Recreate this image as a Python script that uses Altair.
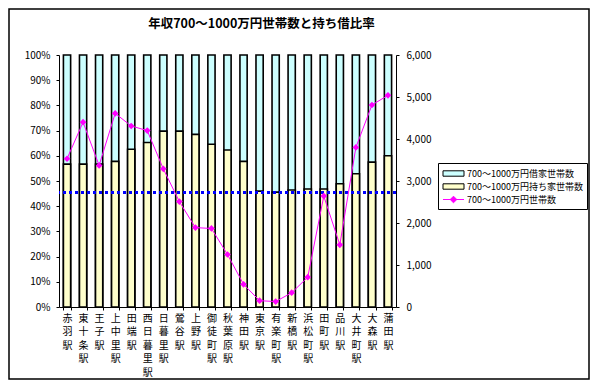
import altair as alt
import pandas as pd

FONT = "Noto Sans CJK JP"

stations = ["赤羽駅", "東十条駅", "王子駅", "上中里駅", "田端駅", "西日暮里駅", "日暮里駅",
            "鶯谷駅", "上野駅", "御徒町駅", "秋葉原駅", "神田駅", "東京駅", "有楽町駅",
            "新橋駅", "浜松町駅", "田町駅", "品川駅", "大井町駅", "大森駅", "蒲田駅"]
own_share = [56.7, 56.7, 56.7, 57.8, 62.6, 65.3, 69.8, 69.8, 68.5, 64.6, 62.3,
             57.8, 46.0, 45.6, 46.4, 46.8, 46.8, 48.9, 52.9, 57.5, 60.0]
households = [3530, 4400, 3370, 4610, 4310, 4200, 3290, 2510, 1890, 1870, 1250,
              540, 150, 130, 340, 710, 2640, 1480, 3800, 4810, 5040]
average_share = [45.4]
series = ["700～1000万円借家世帯数", "700～1000万円持ち家世帯数", "700～1000万円世帯数"]
series_colors = ["#ccffff", "#ffffcc", "#ff00ff"]
series_shapes = ["M-1.75,-0.45H1.75V0.45H-1.75Z", "M-1.75,-0.45H1.75V0.45H-1.75Z",
                 "M-1.75,0H1.75M0,-0.55L0.55,0L0,0.55L-0.55,0Z"]
title_text = "年収700～1000万円世帯数と持ち借比率"

df = pd.DataFrame({"station": stations, "own": own_share,
                   "full": [100] * len(stations), "households": households})
avg_df = pd.DataFrame({"avg": average_share})
legend_df = pd.DataFrame({"series": series})

x_axis = alt.Axis(title=None, labelAngle=0, labelExpr="split(datum.label, '')",
                  labelLineHeight=13.5, labelFont=FONT, labelFontSize=10,
                  labelColor="black", labelBaseline="top", labelPadding=3,
                  labelOverlap=False, tickBand="extent", tickSize=3,
                  tickColor="black", domainColor="black")
x_scale = alt.Scale(paddingInner=0.55, paddingOuter=0.275)


def x_enc():
    return alt.X("station:N", sort=stations, scale=x_scale, axis=x_axis)


left_axis = alt.Axis(title=None, values=list(range(0, 101, 10)), labelExpr="datum.value + '%'",
                     grid=False, tickSize=3, tickColor="black", domainColor="black",
                     labelFont=FONT, labelFontSize=10, labelColor="black", labelPadding=6)
right_axis = alt.Axis(orient="right", title=None, values=list(range(0, 6001, 1000)),
                      labelExpr="format(datum.value, ',')", grid=False, tickSize=3,
                      tickColor="black", domainColor="black", labelFont=FONT,
                      labelFontSize=10, labelColor="black", labelPadding=7)

pct_scale = alt.Scale(domain=[0, 100], nice=False)

rent_bars = alt.Chart(df).mark_bar(fill="#ccffff", stroke="black", strokeWidth=1.6).encode(
    x=x_enc(), y=alt.Y("full:Q", scale=pct_scale, axis=left_axis))
own_bars = alt.Chart(df).mark_bar(fill="#ffffcc", stroke="black", strokeWidth=1.6).encode(
    x=x_enc(), y=alt.Y("own:Q", scale=pct_scale, axis=left_axis))
avg_rule = alt.Chart(avg_df).mark_rule(color="#0000ff", strokeWidth=3, strokeDash=[3, 3]).encode(
    y=alt.Y("avg:Q", scale=pct_scale, axis=left_axis))
left = alt.layer(rent_bars, own_bars, avg_rule)

right = alt.Chart(df).mark_line(
    color="#ff00ff", strokeWidth=1,
    point=alt.OverlayMarkDef(shape="diamond", filled=True, size=45, color="#ff00ff")).encode(
    x=x_enc(),
    y=alt.Y("households:Q", scale=alt.Scale(domain=[0, 6000], nice=False), axis=right_axis))

legend_cfg = alt.Legend(
    title=None, orient="none", legendX=379, legendY=108, direction="vertical",
    strokeColor="black", fillColor="white", padding=4, rowPadding=1,
    symbolSize=144, symbolOffset=5, symbolStrokeWidth=1, labelFont=FONT, labelFontSize=9,
    labelColor="black", labelOffset=7, labelLimit=200,
    symbolStrokeColor=alt.ExprRef(
        expr="datum.value == '700～1000万円世帯数' ? '#ff00ff' : '#000000'"))

legend_layer = alt.Chart(legend_df).mark_point(filled=True, opacity=1).encode(
    color=alt.Color("series:N", scale=alt.Scale(domain=series, range=series_colors), legend=legend_cfg),
    shape=alt.Shape("series:N", scale=alt.Scale(domain=series, range=series_shapes), legend=legend_cfg),
).transform_filter("false")

frame = alt.Chart(alt.Data(values=[{}])).mark_rect(
    fillOpacity=0, stroke="black", strokeWidth=1.5).encode(
    x=alt.value(-50), x2=alt.value(530), y=alt.value(-46), y2=alt.value(324))

chart = alt.layer(left, right, legend_layer, frame).resolve_scale(y="independent").properties(
    width=337, height=252,
    padding={"left": 51, "top": 47, "right": 195, "bottom": 73},
    autosize=alt.AutoSizeParams(type="none"),
    title=alt.Title(title_text, font=FONT, fontSize=12.5, fontWeight="bold", color="black",
                    anchor="middle", dx=34, offset=-22),
    background="white",
).configure_view(fill="#c8c8c8", strokeOpacity=0)

chart.save("out.html", embed_options={"renderer": "svg", "actions": False})
